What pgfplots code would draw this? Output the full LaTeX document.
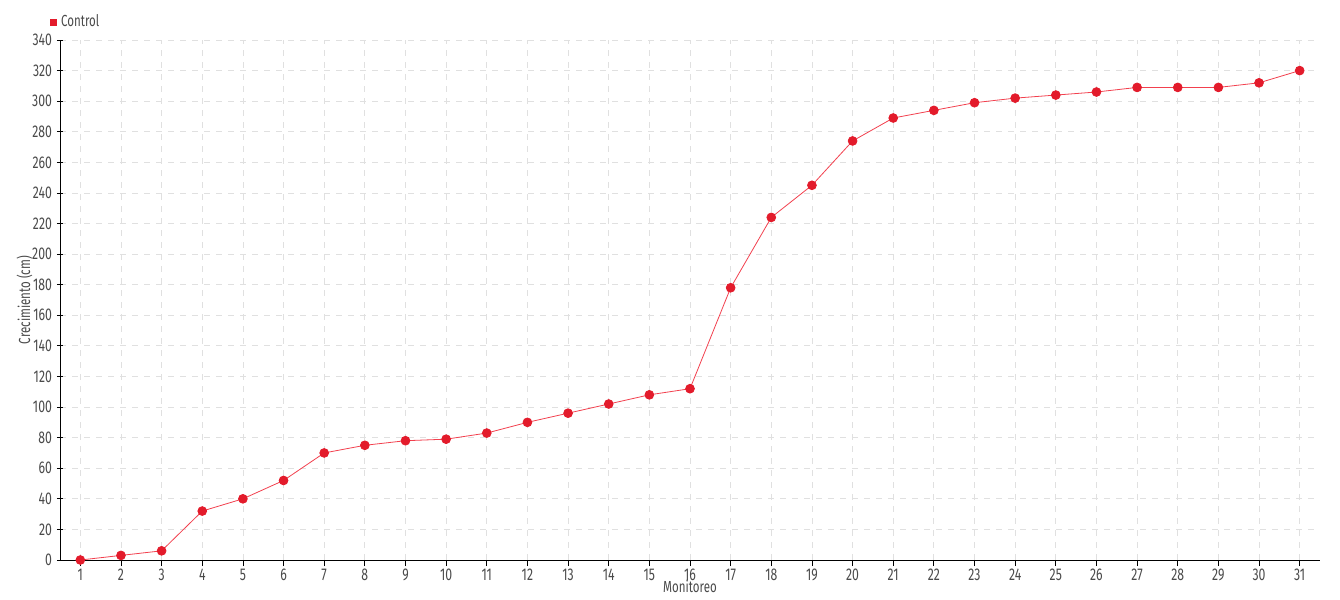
\documentclass[border=0pt]{standalone}
\usepackage{fontspec}
\setmainfont{Fira Sans}[FakeStretch=0.72]
\usepackage{pgfplots}
\pgfplotsset{compat=1.18}
\definecolor{ctrl}{HTML}{E31B2B}
\definecolor{ctrlline}{HTML}{F2404E}
\definecolor{txt}{HTML}{4A4A4A}

\pgfplotstableread{
x y
1 0
2 3
3 6
4 32
5 40
6 52
7 70
8 75
9 78
10 79
11 83
12 90
13 96
14 102
15 108
16 112
17 178
18 224
19 245
20 274
21 289
22 294
23 299
24 302
25 304
26 306
27 309
28 309
29 309
30 312
31 320
}\control

\begin{document}
\begin{tikzpicture}
\path[use as bounding box] (-30pt,-20pt) rectangle (640pt,280pt);
\begin{axis}[
  at={(0pt,0pt)}, anchor=south west,
  scale only axis, width=630pt, height=260pt,
  xmin=0.5, xmax=31.5, ymin=0, ymax=340,
  xtick={1,...,31}, ytick={0,20,...,340},
  axis lines=left, axis line style={black, -},
  tick style={black, thin}, major tick length=3pt,
  xtick align=outside, ytick align=center,
  tick label style={font=\fontsize{8.5}{9}\selectfont, text=txt},
  xticklabel style={yshift=2pt},
  yticklabel style={xshift=1pt},
  /pgf/number format/assume math mode=true,
  grid=major, grid style={dashed, black!12},
  xlabel={Monitoreo}, ylabel={Crecimiento (cm)},
  label style={font=\fontsize{8}{9}\selectfont, text=txt},
  xlabel style={yshift=7.5pt}, ylabel style={yshift=-7pt},
  legend style={at={(0,1)}, anchor=south west, xshift=-5pt, yshift=3pt, draw=none, fill=none,
    font=\fontsize{8}{9}\selectfont, text=txt, inner sep=0pt},
  legend image code/.code={\fill[ctrl] (0pt,-1.5pt) rectangle (3pt,1.5pt);},
  legend cell align=left,
  clip=false,
]
\addplot[ctrlline, line width=0.4pt, mark=*, mark size=2.2pt,
  mark options={fill=ctrl, draw=ctrl}] table[x=x,y=y] {\control};
\addlegendentry{Control}
\end{axis}
\end{tikzpicture}
\end{document}
